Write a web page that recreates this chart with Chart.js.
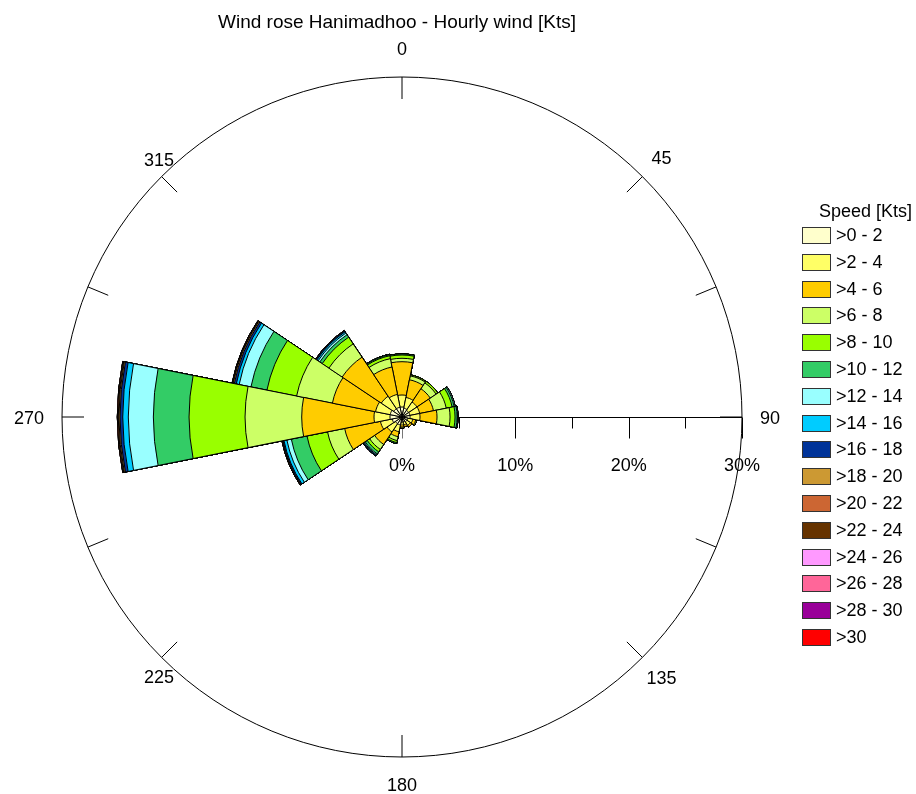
<!DOCTYPE html>
<html>
<head>
<meta charset="utf-8">
<title>Wind rose Hanimadhoo</title>
<script src="https://cdn.jsdelivr.net/npm/chart.js@4.4.1/dist/chart.umd.min.js"></script>
<style>
  html, body { margin: 0; padding: 0; background: #fff; }
  #wrap { width: 916px; height: 794px; }
</style>
</head>
<body>
<div id="wrap"><canvas id="rose" width="916" height="794"></canvas></div>
<script>
// sectors, clockwise from north (22.5 deg each)
const directions = ['N', 'NNE', 'NE', 'ENE', 'E', 'ESE', 'SE', 'SSE',
                    'S', 'SSW', 'SW', 'WSW', 'W', 'WNW', 'NW', 'NNW'];

const speedClasses = ['>0 - 2', '>2 - 4', '>4 - 6', '>6 - 8', '>8 - 10', '>10 - 12',
                      '>12 - 14', '>14 - 16', '>16 - 18', '>18 - 20', '>20 - 22', '>22 - 24',
                      '>24 - 26', '>26 - 28', '>28 - 30', '>30'];
const speedColors = ['#FFFFCC', '#FFFF66', '#FFCC00', '#CCFF66', '#99FF00', '#33CC66',
                     '#99FFFF', '#00CCFF', '#003399', '#CC9933', '#CC6633', '#663300',
                     '#FF99FF', '#FF6699', '#990099', '#FF0000'];

// frequency in % per speed class           N     NNE   NE    ENE   E     ESE   SE    SSE   S     SSW   SW    WSW   W     WNW   NW    NNW
const spd0_2   = [0.88, 0.79, 0.71, 0.71, 0.71, 0.53, 0.53, 0.44, 0.44, 0.71, 0.71, 0.88, 1.06, 1.06, 0.88, 0.88];
const spd2_4   = [1.06, 0.97, 0.88, 0.88, 0.88, 0.44, 0.35, 0.26, 0.26, 0.62, 0.88, 1.06, 1.41, 1.32, 1.32, 1.15];
const spd4_6   = [2.94, 1.59, 1.41, 1.24, 1.50, 0.26, 0.18, 0.18, 0.18, 0.44, 1.32, 3.22, 6.38, 3.88, 4.15, 2.47];
const spd6_8   = [0.30, 0.35, 0.62, 1.15, 1.15, 0.09, 0.00, 0.00, 0.09, 0.35, 0.53, 1.54, 5.00, 3.22, 1.41, 0.75];
const spd8_10  = [0.29, 0.09, 0.18, 0.53, 0.44, 0.00, 0.00, 0.00, 0.00, 0.18, 0.26, 1.85, 4.94, 2.67, 0.71, 0.26];
const spd10_12 = [0.09, 0.00, 0.00, 0.18, 0.18, 0.00, 0.00, 0.00, 0.00, 0.09, 0.22, 1.41, 3.15, 1.44, 0.26, 0.09];
const spd12_14 = [0.00, 0.00, 0.00, 0.09, 0.04, 0.00, 0.00, 0.00, 0.00, 0.00, 0.09, 0.40, 2.21, 1.06, 0.18, 0.04];
const spd14_16 = [0.00, 0.00, 0.00, 0.00, 0.04, 0.00, 0.00, 0.00, 0.00, 0.00, 0.07, 0.26, 0.49, 0.26, 0.13, 0.00];
const spd16_18 = [0.00, 0.00, 0.00, 0.00, 0.00, 0.00, 0.00, 0.00, 0.00, 0.00, 0.06, 0.09, 0.24, 0.18, 0.09, 0.00];
const spd18_20 = [0.00, 0.00, 0.00, 0.00, 0.00, 0.00, 0.00, 0.00, 0.00, 0.00, 0.00, 0.05, 0.10, 0.10, 0.04, 0.00];
const spd20_22 = [0.00, 0.00, 0.00, 0.00, 0.00, 0.00, 0.00, 0.00, 0.00, 0.00, 0.00, 0.04, 0.06, 0.05, 0.00, 0.00];
const spd22_24 = [0.00, 0.00, 0.00, 0.00, 0.00, 0.00, 0.00, 0.00, 0.00, 0.00, 0.00, 0.00, 0.08, 0.05, 0.00, 0.00];
const spd24_26 = [0, 0, 0, 0, 0, 0, 0, 0, 0, 0, 0, 0, 0, 0, 0, 0];
const spd26_28 = [0, 0, 0, 0, 0, 0, 0, 0, 0, 0, 0, 0, 0, 0, 0, 0];
const spd28_30 = [0, 0, 0, 0, 0, 0, 0, 0, 0, 0, 0, 0, 0, 0, 0, 0];
const spd30    = [0, 0, 0, 0, 0, 0, 0, 0, 0, 0, 0, 0, 0, 0, 0, 0];

const compassLabels = ['0', '45', '90', '135', '180', '225', '270', '315'];
const rimTicks = [0, 45, 67.5, 90, 112.5, 135, 180, 225, 247.5, 270, 292.5, 315];
const pctTicks = [0, 10, 20, 30];
const pctMinorTicks = [5, 15, 25];
const axisMax = 30;

const chartTitle = 'Wind rose Hanimadhoo - Hourly wind [Kts]';
const legendTitle = 'Speed [Kts]';

const FONT = '"Liberation Sans", Arial, sans-serif';

// stacked rose: every class is drawn as the running total, smallest on top
const series = [spd0_2, spd2_4, spd4_6, spd6_8, spd8_10, spd10_12, spd12_14, spd14_16,
                spd16_18, spd18_20, spd20_22, spd22_24, spd24_26, spd26_28, spd28_30, spd30];
const running = directions.map(() => 0);
const datasets = series.map((vals, i) => {
  const cum = vals.map((v, k) => (running[k] += v, +running[k].toFixed(3)));
  return {
    label: speedClasses[i],
    data: cum,
    backgroundColor: speedColors[i],
    borderColor: '#000',
    borderWidth: 1
  };
});

// frame, axis, labels and legend drawn around the library's radial scale
const roseFrame = {
  id: 'roseFrame',
  beforeDatasetsDraw(chart) {
    const sc = chart.scales.r;
    const ctx = chart.ctx;
    const cx = sc.xCenter, cy = sc.yCenter;
    const R = sc.getDistanceFromCenterForValue(axisMax);
    ctx.save();
    ctx.strokeStyle = '#000';
    ctx.lineWidth = 1;
    ctx.beginPath();
    ctx.arc(cx, cy, R, 0, Math.PI * 2);
    ctx.stroke();

    rimTicks.forEach(deg => {
      const a = deg * Math.PI / 180 - Math.PI / 2;
      ctx.beginPath();
      ctx.moveTo(cx + Math.cos(a) * (R - 22), cy + Math.sin(a) * (R - 22));
      ctx.lineTo(cx + Math.cos(a) * R, cy + Math.sin(a) * R);
      ctx.stroke();
    });

    // radial axis towards east
    const y0 = Math.round(cy) + 0.5;
    ctx.beginPath();
    ctx.moveTo(cx, y0);
    ctx.lineTo(cx + R, y0);
    ctx.stroke();
    pctTicks.forEach(v => {
      const x = Math.round(cx + sc.getDistanceFromCenterForValue(v)) + 0.5;
      ctx.strokeStyle = v === 0 ? '#777' : '#000';
      ctx.beginPath(); ctx.moveTo(x, y0); ctx.lineTo(x, y0 + 21); ctx.stroke();
    });
    ctx.strokeStyle = '#000';
    pctMinorTicks.forEach(v => {
      const x = Math.round(cx + sc.getDistanceFromCenterForValue(v)) + 0.5;
      ctx.beginPath(); ctx.moveTo(x, y0); ctx.lineTo(x, y0 + 11); ctx.stroke();
    });
    ctx.restore();
  },
  afterDraw(chart) {
    const sc = chart.scales.r;
    const ctx = chart.ctx;
    const cx = sc.xCenter, cy = sc.yCenter;
    const R = sc.getDistanceFromCenterForValue(axisMax);
    ctx.save();
    ctx.fillStyle = '#000';
    ctx.textAlign = 'center';
    ctx.textBaseline = 'middle';

    ctx.font = '19px ' + FONT;
    ctx.fillText(chartTitle, 397, 23);

    ctx.font = '18px ' + FONT;
    compassLabels.forEach((t, i) => {
      const a = i * Math.PI / 4 - Math.PI / 2;
      const sx = Math.cos(a), sy = Math.sin(a);
      const dy = sy > 0.1 ? 2.5 : (sy < -0.9 ? 0 : 2);
      if (Math.abs(sy) < 0.1) {
        // east / west labels sit just off the rim
        ctx.textAlign = sx > 0 ? 'left' : 'right';
        ctx.fillText(t, cx + sx * (R + 18), cy + dy);
      } else if (sx < -0.1) {
        ctx.textAlign = 'left';
        ctx.fillText(t, cx + sx * (R + 25), cy + sy * (R + 25) + dy);
      } else {
        ctx.textAlign = 'center';
        ctx.fillText(t, cx + sx * (R + 27), cy + sy * (R + 27) + dy);
      }
    });

    ctx.textAlign = 'center';
    pctTicks.forEach(v => {
      ctx.fillText(v + '%', cx + sc.getDistanceFromCenterForValue(v), cy + 49);
    });

    // legend
    ctx.textAlign = 'left';
    ctx.fillText(legendTitle, 819, 212);
    speedClasses.forEach((t, i) => {
      const y = 235 + i * 26.8;
      ctx.fillStyle = speedColors[i];
      ctx.fillRect(802, Math.round(y - 8), 28, 16);
      ctx.strokeStyle = '#333';
      ctx.strokeRect(802.5, Math.round(y - 8) + 0.5, 28, 16);
      ctx.fillStyle = '#000';
      ctx.fillText(t, 836, y + 1);
    });
    ctx.restore();
  }
};

new Chart(document.getElementById('rose'), {
  type: 'polarArea',
  data: { labels: directions, datasets: datasets },
  options: {
    responsive: false,
    animation: false,
    layout: { padding: { left: 62, right: 174, top: 77, bottom: 37 } },
    scales: {
      r: {
        min: 0,
        max: axisMax,
        startAngle: -180 / directions.length,
        grid: { display: false },
        angleLines: { display: false },
        ticks: { display: false },
        pointLabels: { display: false }
      }
    },
    plugins: {
      legend: { display: false },
      tooltip: { enabled: false },
      title: { display: false }
    }
  },
  plugins: [roseFrame]
});
</script>
</body>
</html>
